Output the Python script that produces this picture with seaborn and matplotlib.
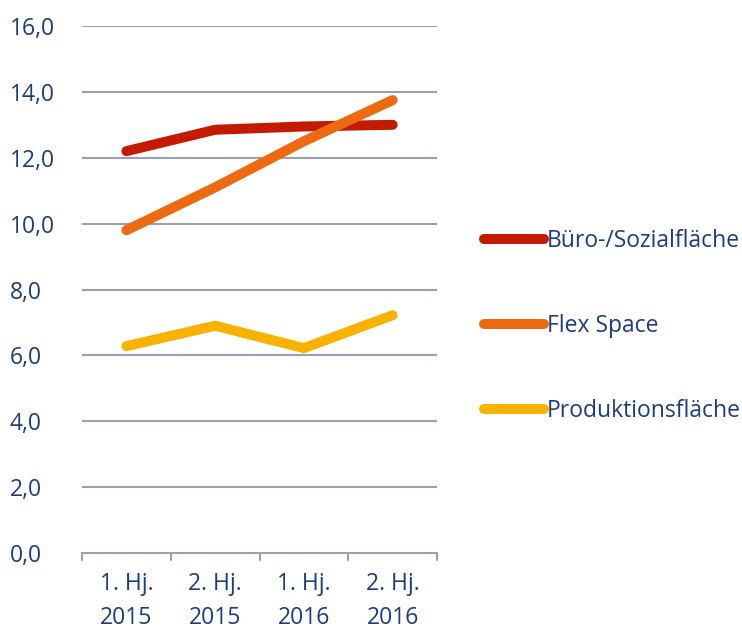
import matplotlib
matplotlib.use("Agg")
import matplotlib.pyplot as plt
import seaborn as sns
import pandas as pd
from matplotlib.transforms import offset_copy
from matplotlib.lines import Line2D

categories = ["1. Hj.\n2015", "2. Hj.\n2015", "1. Hj.\n2016", "2. Hj.\n2016"]
buero = [12.2, 12.85, 12.95, 13.0]
flex = [9.8, 11.1, 12.5, 13.75]
produktion = [6.28, 6.9, 6.22, 7.22]
series_names = ["Büro-/Sozialfläche", "Flex Space", "Produktionsfläche"]
colors = ["#C41A00", "#EE6A10", "#F9B200"]
yticks = [0, 2, 4, 6, 8, 10, 12, 14, 16]

sns.set_theme(style="white")
plt.rcParams["font.family"] = ["Open Sans", "DejaVu Sans"]
text_color = "#1C3C80"
grid_color = "#9A9EB8"

rows = []
for name, vals in zip(series_names, [buero, flex, produktion]):
    for i, v in enumerate(vals):
        rows.append({"x": i, "cat": categories[i], "value": v, "series": name})
df = pd.DataFrame(rows)

fig = plt.figure(figsize=(7.42, 6.3), dpi=100)
ax = fig.add_axes([82 / 742, 1 - 553 / 630, (437 - 82) / 742, (553 - 26) / 630])

sns.lineplot(data=df, x="x", y="value", hue="series", hue_order=series_names,
             palette=colors, linewidth=7.2, ax=ax, legend=False,
             solid_capstyle="round", solid_joinstyle="round")

ax.set_xlim(-0.5, 3.5)
ax.set_ylim(0, 16)
ax.set_yticks(yticks)
ax.set_yticklabels([f"{t:.1f}".replace(".", ",") for t in yticks])
ax.set_xticks(range(len(categories)))
ax.set_xticklabels(categories, linespacing=1.55)
ax.set_xlabel("")
ax.set_ylabel("")

for t in yticks[1:]:
    ax.axhline(t, color=grid_color, linewidth=1.5, zorder=0)

for s in ["top", "right", "left"]:
    ax.spines[s].set_visible(False)
ax.spines["bottom"].set_color(grid_color)
ax.spines["bottom"].set_linewidth(1.5)

# category boundary ticks
for b in [-0.5, 0.5, 1.5, 2.5, 3.5]:
    ax.plot([b, b], [0, -0.22], color=grid_color, linewidth=1.5, clip_on=False)

ax.tick_params(axis="both", length=0, labelsize=16.5, labelcolor=text_color)
ax.tick_params(axis="x", pad=14)
for lbl in ax.get_yticklabels():
    lbl.set_horizontalalignment("left")
    lbl.set_transform(offset_copy(ax.get_yaxis_transform(), fig=fig, x=-72, y=0, units="dots"))

handles = [Line2D([0], [0], color=c, linewidth=7.2, solid_capstyle="round") for c in colors]
leg = fig.legend(handles, series_names, loc="center left",
                 bbox_to_anchor=(484 / 742, 1 - 326 / 630), frameon=False,
                 fontsize=16.5, labelspacing=2.68, handlelength=2.6, handletextpad=0.15,
                 borderpad=0, borderaxespad=0)
for t in leg.get_texts():
    t.set_color(text_color)

fig.savefig("out.png", dpi=100)
